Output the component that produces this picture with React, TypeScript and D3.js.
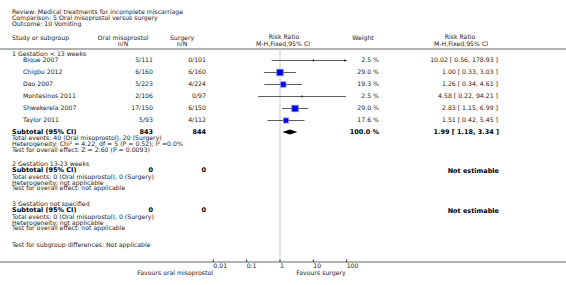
import React from "react";
import * as d3 from "d3";

const titleLines = [
  "Review:  Medical treatments for incomplete miscarriage",
  "Comparison:  5 Oral misoprostol versus surgery",
  "Outcome:  10 Vomiting",
];

const studies = ["Bique 2007", "Chigbu 2012", "Dao 2007", "Montesinos 2011", "Shwekerela 2007", "Taylor 2011"];
const oralNN = ["5/111", "6/160", "5/223", "2/106", "17/150", "5/93"];
const surgNN = ["0/101", "6/160", "4/224", "0/97", "6/150", "4/112"];
const weights = [2.5, 29.0, 19.3, 2.5, 29.0, 17.6];
const rr = [10.02, 1.0, 1.26, 4.58, 2.83, 1.51];
const lo = [0.56, 0.33, 0.34, 0.22, 1.15, 0.42];
const hi = [178.93, 3.03, 4.61, 94.21, 6.99, 5.45];

const subtotal = { rr: 1.99, lo: 1.18, hi: 3.34, oral: "843", surg: "844" };

const axisTicks = [0.01, 0.1, 1, 10, 100];
const axisLabels = ["0.01", "0.1", "1", "10", "100"];

const FONT = "DejaVu Sans, Verdana, sans-serif";
const TXT = "#222";

export default function App() {
  const W = 566, H = 285;
  const x = d3.scaleLog().domain([0.01, 100]).range([213.3, 346.7]);
  const rowY = (i: number) => 60.5 + 12 * i;
  const sq = d3.scaleSqrt().domain([0, 29]).range([0, 6.5]);

  const T = (props: any) => (
    <text fontFamily={FONT} fontSize={6.2} fill={TXT} dominantBaseline="middle" {...props} />
  );
  const B = (props: any) => (
    <text fontFamily={FONT} fontSize={6.5} fontWeight="bold" fill="#000" dominantBaseline="middle" {...props} />
  );

  const fmt = (v: number) => v.toFixed(2);
  const xMin = 213.3, xMax = 346.7;

  const infoBlock = (y0: number, lines: string[]) =>
    lines.map((l, i) => (
      <T key={l + i} x={12} y={y0 + i * 5.7}>{l}</T>
    ));

  return (
    <svg width={W} height={H} style={{ position: "absolute", left: 0, top: 0, background: "#fff" }}>
      {titleLines.map((l, i) => (
        <T key={i} x={12} y={12.3 + i * 5.9}>{l}</T>
      ))}
      {/* header */}
      <T x={12} y={38.5}>Study or subgroup</T>
      <T x={123} y={38} textAnchor="middle">Oral misoprostol</T>
      <T x={123} y={44} textAnchor="middle">n/N</T>
      <T x={182} y={38} textAnchor="middle">Surgery</T>
      <T x={182} y={44} textAnchor="middle">n/N</T>
      <T x={284} y={37.5} textAnchor="middle">Risk Ratio</T>
      <T x={283} y={44} textAnchor="middle">M-H,Fixed,95% CI</T>
      <T x={363} y={38} textAnchor="middle">Weight</T>
      <T x={460} y={37.5} textAnchor="middle">Risk Ratio</T>
      <T x={461} y={44} textAnchor="middle">M-H,Fixed,95% CI</T>
      <line x1={0} x2={W} y1={49} y2={49} stroke="#999" strokeWidth={1.5} />

      {/* vertical no-effect line */}
      <line x1={x(1)} x2={x(1)} y1={49.5} y2={261} stroke="#ddd" strokeWidth={1.5} />

      {/* group 1 */}
      <T x={12} y={54.5}>1 Gestation &lt; 13 weeks</T>
      {studies.map((s, i) => {
        const y = rowY(i);
        const x1 = Math.max(xMin, x(lo[i]));
        const x2 = Math.min(xMax, x(hi[i]));
        const side = sq(weights[i]);
        return (
          <g key={s}>
            <T x={23} y={y}>{s}</T>
            <T x={153} y={y} textAnchor="end">{oralNN[i]}</T>
            <T x={206} y={y} textAnchor="end">{surgNN[i]}</T>
            <line x1={x1} x2={x2} y1={y} y2={y} stroke="#333" strokeWidth={0.8} />
            {hi[i] > 100 && (
              <path d={`M${xMax},${y} l-2.5,-1.3 l0,2.6 Z`} fill="#000" />
            )}
            {side < 2 ? (
              <line x1={x(rr[i])} x2={x(rr[i])} y1={y - 1.2} y2={y + 1.2} stroke="#000" strokeWidth={0.8} />
            ) : (
              <rect x={x(rr[i]) - side / 2} y={y - side / 2} width={side} height={side} fill="#0000ee" stroke="#8080ff" strokeWidth={0.8} />
            )}
            <T x={379} y={y} textAnchor="end">{weights[i].toFixed(1)} %</T>
            <T x={498} y={y} textAnchor="end">{`${fmt(rr[i])} [ ${fmt(lo[i])}, ${fmt(hi[i])} ]`}</T>
          </g>
        );
      })}
      <B x={12} y={131.8}>Subtotal (95% CI)</B>
      <B x={153} y={131.8} textAnchor="end">{subtotal.oral}</B>
      <B x={206} y={131.8} textAnchor="end">{subtotal.surg}</B>
      <path
        d={`M${x(subtotal.lo)},132 L${x(subtotal.rr)},129.5 L${x(subtotal.hi)},132 L${x(subtotal.rr)},134.5 Z`}
        fill="#000"
      />
      <B x={379} y={132} textAnchor="end">100.0 %</B>
      <B x={499} y={132} textAnchor="end">{`${fmt(subtotal.rr)} [ ${fmt(subtotal.lo)}, ${fmt(subtotal.hi)} ]`}</B>
      {infoBlock(138.7, [
        "Total events: 40 (Oral misoprostol), 20 (Surgery)",
        "Heterogeneity: Chi² = 4.22, df = 5 (P = 0.52); I² =0.0%",
        "Test for overall effect: Z = 2.60 (P = 0.0093)",
      ])}

      {/* group 2 */}
      <T x={12} y={164.4}>2 Gestation 13-23 weeks</T>
      <B x={12} y={170.3}>Subtotal (95% CI)</B>
      <B x={153} y={170.3} textAnchor="end">0</B>
      <B x={206} y={170.3} textAnchor="end">0</B>
      <B x={499} y={171} textAnchor="end">Not estimable</B>
      {infoBlock(177.3, [
        "Total events: 0 (Oral misoprostol), 0 (Surgery)",
        "Heterogeneity: not applicable",
        "Test for overall effect: not applicable",
      ])}

      {/* group 3 */}
      <T x={12} y={204.4}>3 Gestation not specified</T>
      <B x={12} y={210.3}>Subtotal (95% CI)</B>
      <B x={153} y={210.3} textAnchor="end">0</B>
      <B x={206} y={210.3} textAnchor="end">0</B>
      <B x={499} y={211} textAnchor="end">Not estimable</B>
      {infoBlock(217.3, [
        "Total events: 0 (Oral misoprostol), 0 (Surgery)",
        "Heterogeneity: not applicable",
        "Test for overall effect: not applicable",
      ])}

      <T x={12} y={245}>Test for subgroup differences: Not applicable</T>

      {/* axis */}
      <line x1={0} x2={W} y1={262} y2={262} stroke="#999" strokeWidth={1.5} />
      {axisTicks.map((t, i) => (
        <g key={t}>
          <line x1={x(t)} x2={x(t)} y1={259.5} y2={262} stroke="#000" strokeWidth={0.8} />
          <T x={x(t)} y={266.5}>{axisLabels[i]}</T>
        </g>
      ))}
      <T x={213} y={273} textAnchor="end">Favours oral misoprostol</T>
      <T x={321} y={273} textAnchor="middle">Favours surgery</T>
    </svg>
  );
}
